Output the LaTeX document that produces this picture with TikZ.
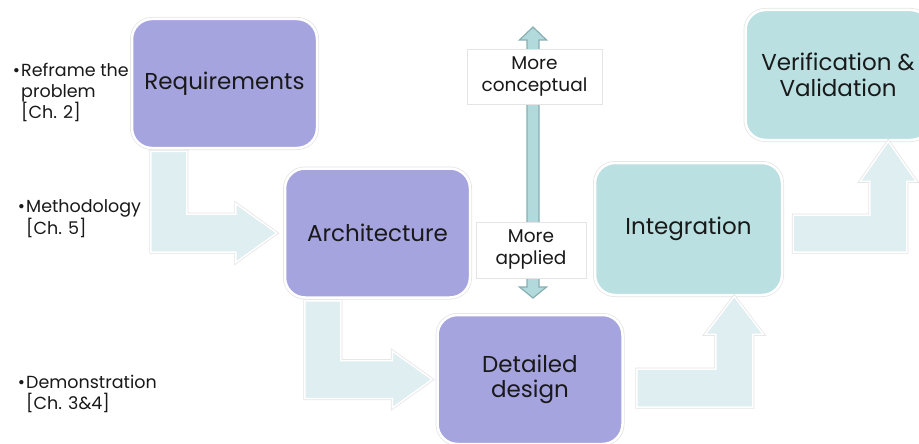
\documentclass[tikz,border=0pt]{standalone}
\usepackage{fontspec}
\setmainfont{Poppins}
\usetikzlibrary{calc}
\definecolor{phasepurple}{RGB}{165,164,222}
\definecolor{phaseteal}{RGB}{186,224,226}
\definecolor{flowfill}{RGB}{223,238,241}
\definecolor{axisfill}{RGB}{178,218,221}
\definecolor{axisedge}{RGB}{135,175,178}
\definecolor{ringgray}{RGB}{228,228,228}
\tikzset{
  phase/.style={rectangle, rounded corners=20pt, minimum width=185pt, minimum height=129pt,
    align=center, font=\fontsize{23}{25.5}\selectfont, text=black!90,
    draw=white, line width=2.5pt, preaction={draw=ringgray, line width=4pt}},
  flow/.style={fill=flowfill, draw=white, line width=1.5pt, line join=miter,
    preaction={draw=ringgray, line width=3pt}},
  axis/.style={fill=axisfill, draw=axisedge, line width=1.2pt, line join=miter},
  tag/.style={rectangle, draw=ringgray, fill=white, line width=0.8pt, align=center,
    font=\fontsize{18.5}{22}\selectfont, text=black!90},
  note/.style={anchor=west, align=left, inner sep=0pt, text=black!90,
    font=\fontsize{17.5}{21}\selectfont}
}
\begin{document}
\begin{tikzpicture}[x=1pt, y=-1pt]
  \useasboundingbox (0,0) rectangle (919,444);
  % Phases
  \node (req) [phase, fill=phasepurple] at (224.5, 83.5) {Requirements};
  \node (arch) [phase, fill=phasepurple] at (377.5, 233) {Architecture};
  \node (det) [phase, fill=phasepurple] at (530, 379.5) {Detailed\\design};
  \node (int) [phase, fill=phaseteal, minimum width=187pt, minimum height=132pt] at (688.5, 229) {Integration};
  \node (ver) [phase, fill=phaseteal, minimum height=130pt] at (838, 75) {Verification \&\\Validation};
  % Bent arrows
  \draw[flow] let \p1 = (req.south west), \p2 = (arch.west) in
    (\x1+20pt, \y1-2pt) -- (\x1+56pt, \y1-2pt) -- (\x1+56pt, \y2+19pt) -- (\x2-48pt, \y2+19pt)
    -- (\x2-48pt, \y2+29.5pt) -- (\x2-7pt, \y2) -- (\x2-48pt, \y2-29.5pt) -- (\x2-48pt, \y2-19pt)
    -- (\x1+20pt, \y2-19pt) -- cycle;
  \draw[flow] let \p1 = (arch.south west), \p2 = (det.west) in
    (\x1+21pt, \y1-2pt) -- (\x1+57pt, \y1-2pt) -- (\x1+57pt, \y2+19pt) -- (\x2-44pt, \y2+19pt)
    -- (\x2-44pt, \y2+28.5pt) -- (\x2-4pt, \y2) -- (\x2-44pt, \y2-28.5pt) -- (\x2-44pt, \y2-19pt)
    -- (\x1+21pt, \y2-19pt) -- cycle;
  \draw[flow] let \p1 = (det.east), \p2 = (int.south east), \p3 = (\x2-49pt, \y1-8.5pt) in
    (\x1+13pt, \y3+19pt) -- (\x3-18.5pt, \y3+19pt) -- (\x3-18.5pt, \y2-38pt) -- (\x3-29pt, \y2-38pt)
    -- (\x3, \y2) -- (\x3+29pt, \y2-38pt) -- (\x3+18.5pt, \y2-38pt) -- (\x3+18.5pt, \y3-19pt)
    -- (\x1+13pt, \y3-19pt) -- cycle;
  \draw[flow] let \p1 = (int.east), \p2 = (ver.south west), \p3 = (\x2+144pt, \y1-4.5pt) in
    (\x1+10pt, \y3+18.5pt) -- (\x3-18.5pt, \y3+18.5pt) -- (\x3-18.5pt, \y2-40pt) -- (\x3-28pt, \y2-40pt)
    -- (\x3, \y2) -- (\x3+28pt, \y2-40pt) -- (\x3+18.5pt, \y2-40pt) -- (\x3+18.5pt, \y3-18.5pt)
    -- (\x1+10pt, \y3-18.5pt) -- cycle;
  % Axis
  \coordinate (upend) at (533, 27);
  \coordinate (downend) at (533, 298);
  \draw[axis] let \p1 = (upend), \p2 = (downend) in
    (\x1, \y1) -- (\x1+13.5pt, \y1-13pt) -- (\x1+6pt, \y1-13pt) -- (\x1+6pt, \y2+11pt)
    -- (\x1+13.5pt, \y2+11pt) -- (\x2, \y2) -- (\x1-13.5pt, \y2+11pt) -- (\x1-6pt, \y2+11pt)
    -- (\x1-6pt, \y1-13pt) -- (\x1-13.5pt, \y1-13pt) -- cycle;
  \node (concept) [tag, minimum width=135pt, minimum height=55pt] at (534.5, 77) {More\\conceptual};
  \node (applied) [tag, minimum width=110pt, minimum height=56pt] at (531, 250) {More\\applied};
  % Notes
  \node (reframe) [note] at (21, 92) {\llap{\textbullet\hspace{1pt}}Reframe the\\problem\\{}[Ch. 2]};
  \node (method) [note] at (26, 219) {\llap{\textbullet\hspace{1pt}}Methodology\\{}[Ch. 5]};
  \node (demo) [note] at (26, 394) {\llap{\textbullet\hspace{1pt}}Demonstration\\{}[Ch. 3\&4]};
\end{tikzpicture}
\end{document}
